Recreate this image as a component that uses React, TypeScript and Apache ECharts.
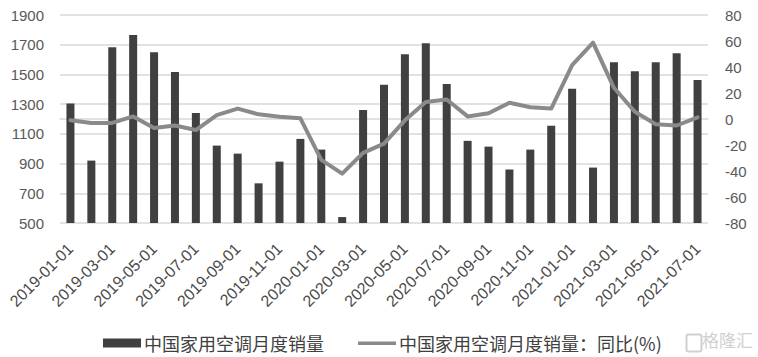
import React, { useEffect, useRef } from "react";
import * as echarts from "echarts";

const months: string[] = [
  "2019-01-01","2019-02-01","2019-03-01","2019-04-01","2019-05-01","2019-06-01","2019-07-01","2019-08-01","2019-09-01","2019-10-01","2019-11-01","2019-12-01",
  "2020-01-01","2020-02-01","2020-03-01","2020-04-01","2020-05-01","2020-06-01","2020-07-01","2020-08-01","2020-09-01","2020-10-01","2020-11-01","2020-12-01",
  "2021-01-01","2021-02-01","2021-03-01","2021-04-01","2021-05-01","2021-06-01","2021-07-01",
];

const salesValues: number[] = [
  1305, 920, 1683, 1766, 1650, 1517, 1241, 1021, 967, 767, 913, 1066,
  994, 540, 1261, 1430, 1636, 1710, 1436, 1053, 1014, 860, 994, 1154,
  1403, 873, 1582, 1522, 1582, 1643, 1463,
];

const yoyValues: number[] = [
  -1, -3, -3, 2, -7, -5, -8.5, 3, 8, 3.6, 1.8, 0.5,
  -31.5, -42, -26, -19, -1, 13, 15, 2, 4.4, 12.5, 9, 8,
  41.5, 58.7, 24, 5.6, -4, -5, 1.3,
];

const leftTicks = { min: 500, max: 1900, interval: 200 };
const rightTicks = { min: -80, max: 80, interval: 20 };

const barName = "中国家用空调月度销量";
const lineName = "中国家用空调月度销量：同比(%)";

export default function App() {
  const ref = useRef<HTMLDivElement>(null);
  useEffect(() => {
    if (!ref.current) return;
    const chart = echarts.init(ref.current, undefined, { renderer: "svg" });
    const axisFont = { color: "#595959", fontSize: 15, fontFamily: "Liberation Sans, Arial, sans-serif" };
    chart.setOption({
      animation: false,
      backgroundColor: "#ffffff",
      grid: { left: 60, right: 50, top: 15, bottom: 134, containLabel: false },
      legend: {
        left: 98,
        top: 329,
        itemGap: 34,
        itemWidth: 38,
        itemHeight: 9,
        textStyle: { color: "#404040", fontSize: 18, fontFamily: "Noto Sans CJK SC, sans-serif", padding: [0, 0, 0, -2] },
        data: [
          { name: barName, icon: "rect", itemStyle: { color: "#404040" } },
          {
            name: lineName,
            icon: "path://M0,0 M0,3 L40,3 L40,6.5 L0,6.5 Z M0,9",
            itemStyle: { color: "#8a8a8a" },
          },
        ],
      },
      xAxis: {
        type: "category",
        data: months,
        axisTick: { show: false },
        axisLine: { show: true, lineStyle: { color: "#d9d9d9", width: 1.5 } },
        axisLabel: { ...axisFont, fontSize: 16, color: "#4a4a4a", rotate: 45, interval: 1, margin: 23 },
      },
      yAxis: [
        {
          type: "value",
          min: leftTicks.min,
          max: leftTicks.max,
          interval: leftTicks.interval,
          axisLine: { show: false },
          axisTick: { show: false },
          splitLine: { lineStyle: { color: "#d9d9d9", width: 1.5 } },
          axisLabel: { ...axisFont, margin: 16, formatter: (v: number) => String(v) },
        },
        {
          type: "value",
          min: rightTicks.min,
          max: rightTicks.max,
          interval: rightTicks.interval,
          axisLine: { show: false },
          axisTick: { show: false },
          splitLine: { show: false },
          axisLabel: { ...axisFont, margin: 17, formatter: (v: number) => String(v) },
        },
      ],
      series: [
        {
          name: barName,
          type: "bar",
          data: salesValues,
          barWidth: 8,
          itemStyle: { color: "#404040" },
          yAxisIndex: 0,
        },
        {
          name: lineName,
          type: "line",
          data: yoyValues,
          yAxisIndex: 1,
          symbol: "none",
          lineStyle: { color: "#8a8a8a", width: 4, cap: "round", join: "round" },
          itemStyle: { color: "#8a8a8a" },
        },
      ],
      graphic: [
        {
          type: "rect",
          left: 684,
          top: 332,
          shape: { width: 15, height: 17, r: 2 },
          style: { fill: "none", stroke: "#d0d0d0", lineWidth: 2 },
        },
        {
          type: "text",
          left: 702,
          top: 331,
          style: { text: "格隆汇", fill: "#d0d0d0", fontSize: 17, fontFamily: "Noto Sans CJK SC, sans-serif" },
        },
      ],
    });
    return () => chart.dispose();
  }, []);
  return (
    <div
      ref={ref}
      style={{ width: 758, height: 357, position: "fixed", left: 0, top: 0 }}
    />
  );
}
